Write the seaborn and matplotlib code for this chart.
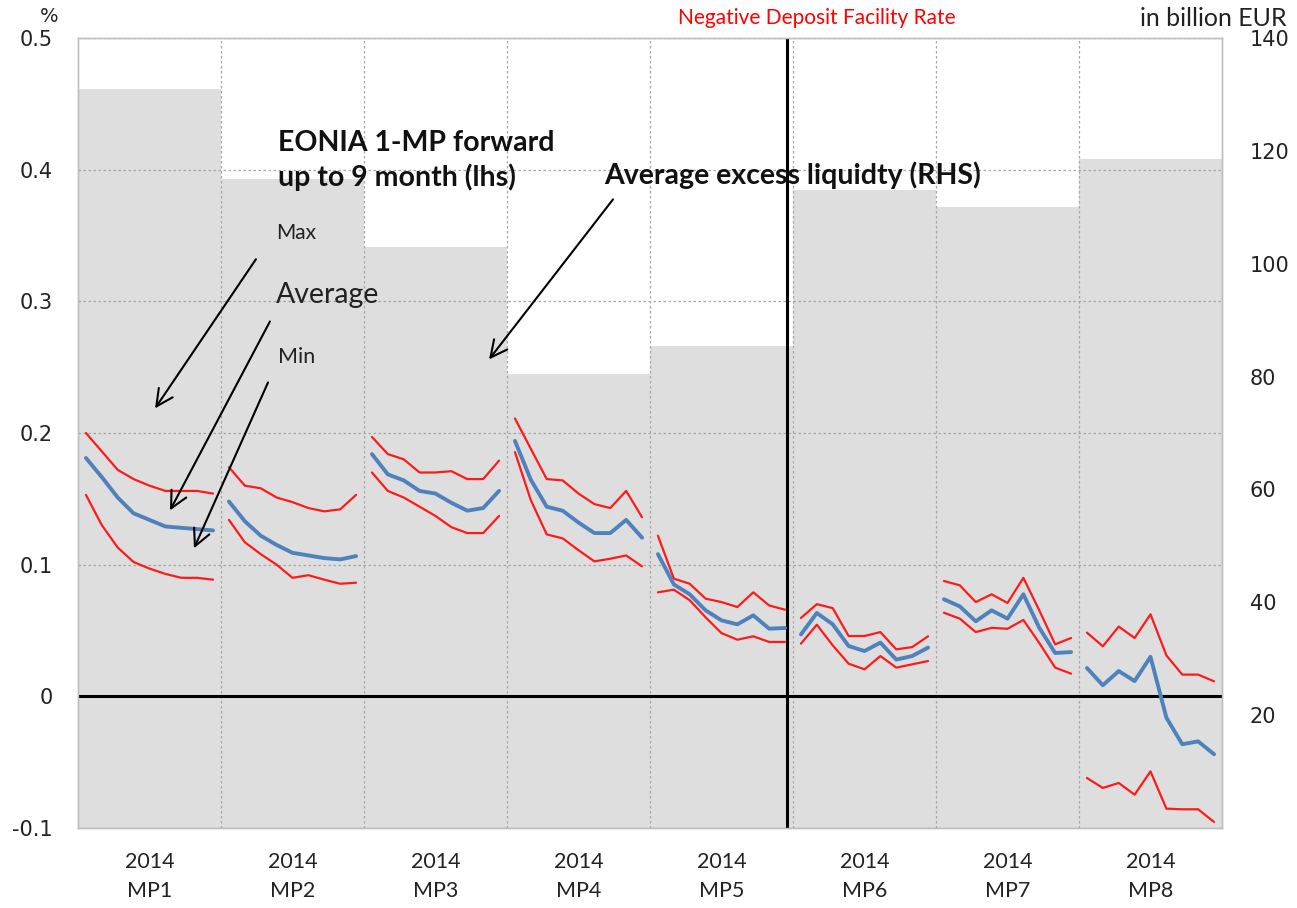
import matplotlib
matplotlib.use("Agg")
import matplotlib.pyplot as plt
import seaborn as sns
import pandas as pd

# ---------------- data ----------------
mp_names = ["MP1", "MP2", "MP3", "MP4", "MP5", "MP6", "MP7", "MP8"]
mp_tick_labels = ["2014\nMP1", "2014\nMP2", "2014\nMP3", "2014\nMP4",
                  "2014\nMP5", "2014\nMP6", "2014\nMP7", "2014\nMP8"]

# Average excess liquidity (RHS, billion EUR)
excess_liquidity = [131, 115, 103, 80.5, 85.5, 113, 110, 118.5]

# EONIA 1-MP forward, up to 9 months (lhs, %)
eonia_max = [
    [0.200, 0.186, 0.172, 0.165, 0.160, 0.156, 0.156, 0.156, 0.154],
    [0.174, 0.160, 0.158, 0.151, 0.1475, 0.143, 0.1405, 0.142, 0.153],
    [0.197, 0.184, 0.180, 0.170, 0.170, 0.171, 0.165, 0.165, 0.179],
    [0.211, 0.188, 0.165, 0.164, 0.154, 0.146, 0.143, 0.156, 0.136],
    [0.122, 0.0894, 0.0855, 0.0742, 0.0716, 0.0678, 0.079, 0.069, 0.0658],
    [0.0595, 0.070, 0.067, 0.0458, 0.0458, 0.0488, 0.0357, 0.0374, 0.0456],
    [0.0876, 0.0843, 0.0716, 0.0775, 0.0709, 0.090, 0.0653, 0.0395, 0.0443],
    [0.0484, 0.038, 0.053, 0.0443, 0.0623, 0.0311, 0.0165, 0.0165, 0.0114],
]
eonia_avg = [
    [0.181, 0.1665, 0.151, 0.139, 0.134, 0.129, 0.128, 0.127, 0.126],
    [0.148, 0.133, 0.122, 0.115, 0.109, 0.107, 0.105, 0.104, 0.1065],
    [0.184, 0.1686, 0.164, 0.156, 0.154, 0.147, 0.141, 0.143, 0.156],
    [0.194, 0.1645, 0.144, 0.141, 0.132, 0.124, 0.124, 0.134, 0.1205],
    [0.108, 0.085, 0.0775, 0.0653, 0.0577, 0.0547, 0.0615, 0.0514, 0.0519],
    [0.047, 0.0633, 0.0547, 0.0382, 0.0344, 0.0408, 0.0279, 0.0306, 0.037],
    [0.0737, 0.0683, 0.057, 0.0653, 0.059, 0.0775, 0.052, 0.0329, 0.0336],
    [0.0215, 0.0084, 0.0192, 0.0116, 0.030, -0.0162, -0.0364, -0.0342, -0.044],
]
eonia_min = [
    [0.153, 0.130, 0.113, 0.102, 0.097, 0.093, 0.090, 0.090, 0.0886],
    [0.134, 0.117, 0.108, 0.100, 0.090, 0.092, 0.0886, 0.0855, 0.0863],
    [0.170, 0.156, 0.151, 0.144, 0.137, 0.1285, 0.124, 0.124, 0.137],
    [0.1855, 0.149, 0.123, 0.120, 0.111, 0.1025, 0.1045, 0.107, 0.0987],
    [0.079, 0.081, 0.073, 0.060, 0.048, 0.043, 0.0456, 0.0413, 0.0413],
    [0.040, 0.0544, 0.0387, 0.0248, 0.0205, 0.0306, 0.0218, 0.0243, 0.0268],
    [0.0635, 0.059, 0.0488, 0.052, 0.0513, 0.058, 0.0405, 0.0218, 0.0172],
    [-0.062, -0.0696, -0.0658, -0.0747, -0.057, -0.0853, -0.0858, -0.0858, -0.0954],
]

left_ticks = [-0.1, 0.0, 0.1, 0.2, 0.3, 0.4, 0.5]
left_tick_labels = ["-0.1", "0", "0.1", "0.2", "0.3", "0.4", "0.5"]
right_ticks = [20, 40, 60, 80, 100, 120, 140]
right_tick_labels = ["20", "40", "60", "80", "100", "120", "140"]
deposit_rate_cut_obs = 44  # observation index of the negative DFR line

# ---------------- build tables ----------------
n_per = len(eonia_avg[0])
centers = [i * n_per + (n_per - 1) / 2 for i in range(len(mp_names))]
bar_df = pd.DataFrame({"pos": centers, "liq": excess_liquidity})

rows = []
for i, mp in enumerate(mp_names):
    for j in range(n_per):
        x = i * n_per + j
        rows.append({"x": x, "mp": mp, "stat": "Max", "value": eonia_max[i][j]})
        rows.append({"x": x, "mp": mp, "stat": "Min", "value": eonia_min[i][j]})
        rows.append({"x": x, "mp": mp, "stat": "Average", "value": eonia_avg[i][j]})
line_df = pd.DataFrame(rows)

# ---------------- figure ----------------
sns.set_style("white")
plt.rcParams["font.family"] = ["DejaVu Sans"]
W, H = 1297, 908
fig = plt.figure(figsize=(W / 100, H / 100), dpi=100)
ax = fig.add_axes([78 / W, 1 - 828 / H, (1222 - 78) / W, (828 - 38) / H])

sns.barplot(data=bar_df, x="pos", y="liq", native_scale=True, width=1.0,
            color="#dedede", saturation=1, edgecolor="none", linewidth=0, ax=ax)
ax.set_ylim(0, 140)
ax.set_xlim(-0.5, len(mp_names) * n_per - 0.5)

ax2 = ax.twinx()
sns.lineplot(data=line_df, x="x", y="value", hue="stat", size="stat",
             units="mp", estimator=None, hue_order=["Max", "Min", "Average"],
             palette={"Max": "#ff1a1a", "Min": "#ff1a1a", "Average": "#4f81bd"},
             sizes={"Max": 1.6, "Min": 1.6, "Average": 2.8},
             legend=False, ax=ax2)
ax2.set_ylim(-0.1, 0.5)
ax2.set_xlim(-0.5, len(mp_names) * n_per - 0.5)

# axes sides
ax.yaxis.tick_right()
ax2.yaxis.tick_left()
ax.yaxis.set_label_position("right")
ax2.set_yticks(left_ticks)
ax2.set_yticklabels(left_tick_labels)
ax.set_yticks(right_ticks)
ax.set_yticklabels(right_tick_labels)
ax.set_xticks(centers)
ax.set_xticklabels(mp_tick_labels, fontfamily="Lato", fontsize=15.5, linespacing=1.6)
ax.set_xticks([c + (n_per) / 2 for c in centers[:-1]], minor=True)
for a in (ax, ax2):
    a.set_xlabel("")
    a.set_ylabel("")
ax.tick_params(axis="y", length=0, pad=20, labelsize=15, colors="#222222")
ax2.tick_params(axis="y", length=0, pad=18, labelsize=15, colors="#222222")
ax.tick_params(axis="x", which="both", length=0, pad=17, colors="#222222")

# grids (drawn above the bars)
ax.set_axisbelow(False)
ax.grid(which="minor", axis="x", color="#a6a6a6", linestyle=(0, (2, 2)), linewidth=0.9)
ax.grid(which="major", axis="both", visible=False)
ax2.grid(axis="y", color="#a6a6a6", linestyle=(0, (2, 2)), linewidth=0.9)
ax2.set_axisbelow(True)

for a in (ax, ax2):
    for s in a.spines.values():
        s.set_color("#bfbfbf")
        s.set_linewidth(1.0)

ax2.axhline(0, color="black", linewidth=2.2, zorder=1.8)
ax2.axvline(deposit_rate_cut_obs + 0.1, color="black", linewidth=2.2, zorder=1.8)

# ---------------- annotations ----------------
txt_font = "Lato"
ax2.text(12.1, 0.407, "EONIA 1-MP forward\nup to 9 month (lhs)", fontfamily=txt_font,
         fontweight="bold", fontsize=20.5, ha="left", va="center", linespacing=1.3,
         color="#111111")
ax2.text(32.6, 0.3956, "Average excess liquidty (RHS)", fontfamily=txt_font,
         fontweight="bold", fontsize=20.5, ha="left", va="center", color="#111111")
ax2.text(12.0, 0.3516, "Max", fontfamily=txt_font, fontsize=15, ha="left", va="center",
         color="#222222")
ax2.text(11.95, 0.3045, "Average", fontfamily=txt_font, fontsize=20.5, ha="left",
         va="center", color="#222222")
ax2.text(12.1, 0.2574, "Min", fontfamily=txt_font, fontsize=15.5, ha="left", va="center",
         color="#222222")

arrows = [((10.70, 0.332), (4.35, 0.2187)),
          ((11.58, 0.2847), (5.29, 0.1412)),
          ((11.46, 0.2384), (6.80, 0.1124)),
          ((33.17, 0.3774), (25.37, 0.2559))]
for start, end in arrows:
    ax2.annotate("", xy=end, xytext=start,
                 arrowprops=dict(arrowstyle="->", color="black", lw=1.5,
                                 mutation_scale=30, shrinkA=0, shrinkB=0))

fig.text(817 / W, 1 - 18 / H, "Negative Deposit Facility Rate", color="#ff0000",
         fontfamily=txt_font, fontsize=15, ha="center", va="center")
fig.text(1287 / W, 1 - 18 / H, "in billion EUR", color="#222222",
         fontfamily=txt_font, fontsize=18, ha="right", va="center")
fig.text(49 / W, 1 - 16 / H, "%", color="#222222", fontsize=14, ha="center", va="center")

fig.savefig("out.png", dpi=100, facecolor="white")
